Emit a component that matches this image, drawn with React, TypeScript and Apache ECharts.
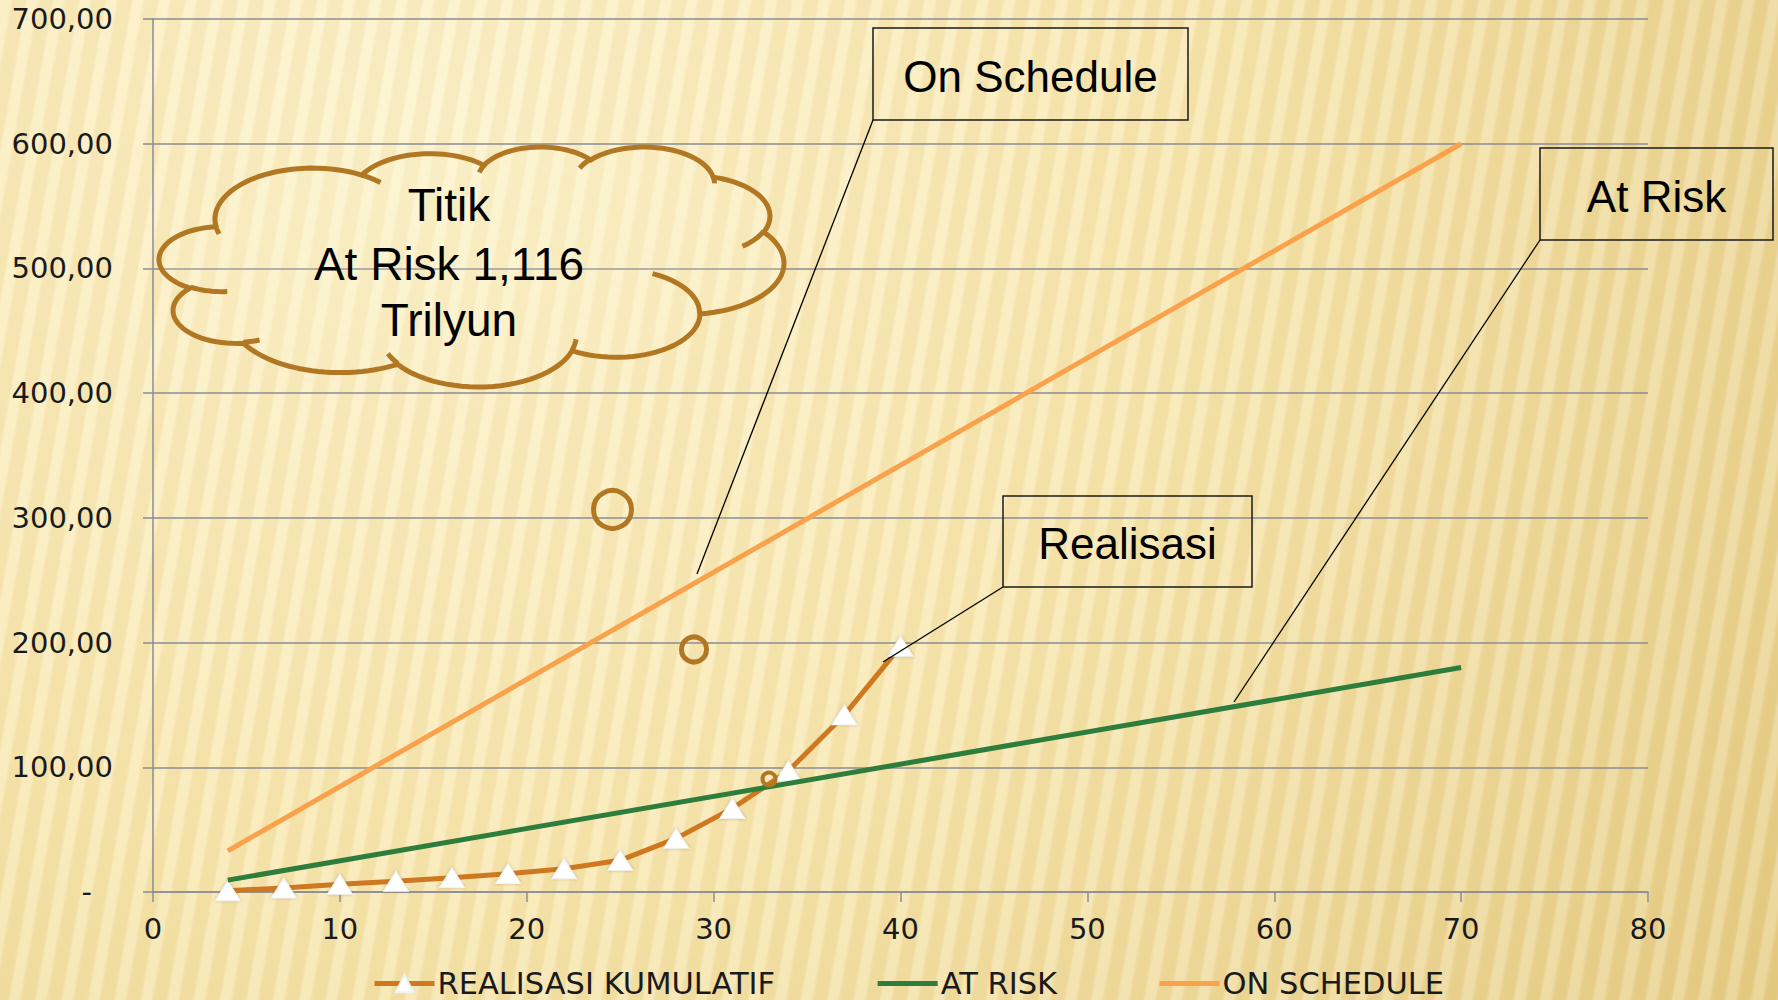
import React, { useEffect, useRef } from "react";
import * as echarts from "echarts";

// ---------- data ----------
const seriesNames = ["REALISASI KUMULATIF", "AT RISK", "ON SCHEDULE"];
const realisasiX = [4, 7, 10, 13, 16, 19, 22, 25, 28, 31, 34, 37, 40];
const realisasiY = [1, 3.2, 6.2, 8.6, 11.5, 14.7, 18.7, 25.4, 43, 67, 97, 142, 197];
const atRiskX = [4, 70];
const atRiskY = [9.5, 180];
const onScheduleX = [4, 70];
const onScheduleY = [33, 600];
const cloudLines = ["Titik", "At Risk 1,116", "Trilyun"];
const calloutLabels = ["On Schedule", "At Risk", "Realisasi"];

// PowerPoint preset "cloud" outline (43200 unit space)
const CLOUD_START: [number, number] = [3900, 14370];
const CLOUD_OUTER = [
  [6753, 9190, -11429249, 7426832],
  [5333, 7267, -8646143, 5396714],
  [4365, 5945, -8748475, 5983381],
  [4857, 6595, -7859164, 7034504],
  [5333, 7273, -4722533, 6541615],
  [6775, 9220, -2776035, 7816140],
  [5785, 7867, 37501, 6842000],
  [6752, 9215, 1347096, 6910353],
  [7720, 10543, 3974558, 4542661],
  [4360, 5918, -16496525, 8804134],
  [4345, 5945, -14809710, 9151131],
];
const CLOUD_INNER = [
  [4693, 26177, 4345, 5945, 5204520, 1585770],
  [6928, 34899, 4360, 5918, 4416628, 686848],
  [16478, 39090, 6752, 9215, 8257449, 844866],
  [28827, 34751, 6752, 9215, 387196, 959901],
  [34129, 22954, 5785, 7867, -4217541, 4255042],
  [41798, 15354, 5333, 7273, 1819082, 1665090],
  [38324, 5426, 4857, 6595, -824660, 891534],
  [29078, 3952, 4857, 6595, -8950887, 1091722],
  [22141, 4720, 4365, 5945, -9809656, 1061181],
  [14000, 5192, 6753, 9190, -4002417, 739161],
  [4127, 15789, 6753, 9190, 9459261, 711490],
];

function arcPts(start: number[], wR: number, hR: number, stAng: number, swAng: number, n = 28) {
  const st = (stAng / 60000) * (Math.PI / 180);
  const sw = (swAng / 60000) * (Math.PI / 180);
  const par = (a: number) => Math.atan2(wR * Math.sin(a), hR * Math.cos(a));
  const t0 = par(st);
  let t1 = par(st + sw);
  if (sw > 0) { while (t1 < t0) t1 += 2 * Math.PI; } else { while (t1 > t0) t1 -= 2 * Math.PI; }
  const cx = start[0] - wR * Math.cos(t0);
  const cy = start[1] - hR * Math.sin(t0);
  const pts: number[][] = [];
  for (let i = 1; i <= n; i++) {
    const t = t0 + ((t1 - t0) * i) / n;
    pts.push([cx + wR * Math.cos(t), cy + hR * Math.sin(t)]);
  }
  return pts;
}

function buildCloud(bx: number, by: number, bw: number, bh: number) {
  let cur: number[] = CLOUD_START.slice();
  const outer: number[][] = [cur];
  CLOUD_OUTER.forEach(([w, h, s, sw]) => {
    const p = arcPts(cur, w, h, s, sw);
    outer.push(...p);
    cur = p[p.length - 1];
  });
  const inner = CLOUD_INNER.map(([x, y, w, h, s, sw]) => [[x, y], ...arcPts([x, y], w, h, s, sw, 12)]);
  const xs = outer.map((p) => p[0]);
  const ys = outer.map((p) => p[1]);
  const minX = Math.min(...xs), maxX = Math.max(...xs), minY = Math.min(...ys), maxY = Math.max(...ys);
  const map = (p: number[]) => [bx + ((p[0] - minX) / (maxX - minX)) * bw, by + ((p[1] - minY) / (maxY - minY)) * bh];
  return { outer: outer.map(map), inner: inner.map((arr) => arr.map(map)) };
}

export default function App() {
  const ref = useRef<HTMLDivElement>(null);
  useEffect(() => {
    const chart = echarts.init(ref.current!, null, { renderer: "svg" });
    const W = 1778, H = 1000;

    // background stripes gradient
    const period = 26;
    const L = 2000;
    const stops: { offset: number; color: string }[] = [];
    const light = "rgba(255,251,232,0.26)";
    const dark = "rgba(205,165,75,0.08)";
    for (let i = 0; i * period < L; i++) {
      const o = (i * period) / L;
      const push = (f: number, c: string) => {
        const off = o + (f * period) / L;
        if (off <= 1) stops.push({ offset: off, color: c });
      };
      push(0.05, light);
      push(0.4, light);
      push(0.6, dark);
      push(0.9, dark);
    }
    const ang = (10 * Math.PI) / 180;
    const dx = Math.cos(ang), dy = Math.sin(ang);

    const cloud = buildCloud(159, 147, 625, 240);
    const cloudColor = "#B27722";

    const font = "DejaVu Sans";
    const boxFont = "Liberation Sans";
    const boxes = [
      { x: 873, y: 28, w: 315, h: 92, text: calloutLabels[0], lead: [873, 120, 697, 574] },
      { x: 1540, y: 148, w: 233, h: 92, text: calloutLabels[1], lead: [1540, 240, 1234, 702] },
      { x: 1003, y: 496, w: 249, h: 91, text: calloutLabels[2], lead: [1003, 587, 883, 662] },
    ];

    const graphic: any[] = [
      {
        type: "rect", z: -200, silent: true,
        shape: { x: 0, y: 0, width: W, height: H },
        style: {
          fill: new echarts.graphic.RadialGradient(420, 120, 1700, [
            { offset: 0, color: "#FCF2CC" },
            { offset: 0.45, color: "#F7E6AE" },
            { offset: 0.8, color: "#EAD391" },
            { offset: 1, color: "#E2C87C" },
          ], true),
        },
      },
      {
        type: "rect", z: -190, silent: true,
        shape: { x: 0, y: 0, width: W, height: H },
        style: {
          fill: new echarts.graphic.LinearGradient(0, 0, L * dx, L * dy, stops, true),
        },
      },
      {
        type: "polygon", z: 50, silent: true,
        shape: { points: cloud.outer },
        style: { fill: "rgba(255,248,215,0.15)", stroke: cloudColor, lineWidth: 5 },
      },
      ...cloud.inner.map((pts) => ({
        type: "polyline", z: 51, silent: true,
        shape: { points: pts },
        style: { fill: "none", stroke: cloudColor, lineWidth: 5 },
      })),
      ...cloudLines.map((t, i) => ({
        type: "text", z: 60, silent: true,
        x: 449, y: [205, 264, 320][i],
        style: { text: t, fontFamily: boxFont, fontSize: 46, fill: "#000", align: "center", verticalAlign: "middle" },
      })),
      { type: "circle", z: 50, silent: true, shape: { cx: 612.5, cy: 509.5, r: 19 }, style: { fill: "none", stroke: cloudColor, lineWidth: 5 } },
      { type: "circle", z: 50, silent: true, shape: { cx: 694, cy: 649.5, r: 12.5 }, style: { fill: "none", stroke: cloudColor, lineWidth: 5 } },
      { type: "circle", z: 50, silent: true, shape: { cx: 769, cy: 779, r: 6.5 }, style: { fill: "none", stroke: cloudColor, lineWidth: 4 } },
    ];
    boxes.forEach((b) => {
      graphic.push({
        type: "rect", z: 50, silent: true,
        shape: { x: b.x, y: b.y, width: b.w, height: b.h },
        style: { fill: "none", stroke: "#1a1a1a", lineWidth: 1.5 },
      });
      graphic.push({
        type: "text", z: 60, silent: true,
        x: b.x + b.w / 2, y: b.y + b.h / 2 + 2,
        style: { text: b.text, fontFamily: boxFont, fontSize: 44, fill: "#000", align: "center", verticalAlign: "middle" },
      });
      graphic.push({
        type: "line", z: 50, silent: true,
        shape: { x1: b.lead[0], y1: b.lead[1], x2: b.lead[2], y2: b.lead[3] },
        style: { stroke: "#000", lineWidth: 1.3 },
      });
    });

    const axisGray = "#8A8D94";
    const colors = ["#CF7820", "#2E7D3D", "#FAA24B"];
    const option: any = {
      animation: false,
      backgroundColor: "transparent",
      grid: { left: 153, right: 130, top: 19, bottom: 108, containLabel: false, outerBoundsMode: "none" },
      legend: {
        data: [
          { name: seriesNames[0], lineStyle: { width: 5, color: colors[0] } },
          { name: seriesNames[1], lineStyle: { width: 5, color: colors[1] }, itemStyle: { opacity: 0 } },
          { name: seriesNames[2], lineStyle: { width: 5, color: colors[2] }, itemStyle: { opacity: 0 } },
        ],
        left: 372,
        top: 968,
        padding: 0,
        itemGap: 100,
        itemWidth: 60,
        itemHeight: 22,
        textStyle: { fontFamily: font, fontSize: 30.5, color: "#1a1a1a", padding: [0, 0, 0, -2] },
      },
      xAxis: {
        type: "value",
        min: 0, max: 80, interval: 10,
        axisLine: { show: true, lineStyle: { color: axisGray, width: 1.5 } },
        axisTick: { show: true, length: 10, lineStyle: { color: axisGray, width: 1.5 } },
        axisLabel: { fontFamily: font, fontSize: 29, color: "#1a1a1a", margin: 22 },
        splitLine: { show: false },
      },
      yAxis: {
        type: "value",
        min: 0, max: 700, interval: 100,
        axisLine: { show: true, lineStyle: { color: axisGray, width: 1.5 } },
        axisTick: { show: true, length: 10, lineStyle: { color: axisGray, width: 1.5 } },
        axisLabel: {
          fontFamily: font, fontSize: 29, color: "#1a1a1a", margin: 40,
          formatter: (v: number) => (v === 0 ? "{z|-}" : v.toFixed(2).replace(".", ",")),
          rich: { z: { fontFamily: font, fontSize: 29, color: "#1a1a1a", padding: [0, 21, 0, 0] } },
        },
        splitLine: { show: true, lineStyle: { color: axisGray, width: 1.5 } },
      },
      graphic,
      series: [
        {
          name: seriesNames[0],
          type: "line",
          data: realisasiX.map((x, i) => [x, realisasiY[i]]),
          symbol: "triangle",
          symbolSize: [25, 20],
          lineStyle: { color: colors[0], width: 5 },
          itemStyle: { color: "#FFFFFF", borderColor: "#F2F2F2", borderWidth: 1, shadowBlur: 3, shadowColor: "rgba(120,90,30,0.35)" },
          z: 3,
        },
        {
          name: seriesNames[1],
          type: "line",
          data: atRiskX.map((x, i) => [x, atRiskY[i]]),
          symbol: "none",
          lineStyle: { color: colors[1], width: 5 },
          itemStyle: { color: colors[1] },
          z: 4,
        },
        {
          name: seriesNames[2],
          type: "line",
          data: onScheduleX.map((x, i) => [x, onScheduleY[i]]),
          symbol: "none",
          lineStyle: { color: colors[2], width: 5 },
          itemStyle: { color: colors[2] },
          z: 4,
        },
      ],
    };
    chart.setOption(option);
    return () => chart.dispose();
  }, []);
  return <div ref={ref} style={{ position: "absolute", left: 0, top: 0, width: 1778, height: 1000 }} />;
}
